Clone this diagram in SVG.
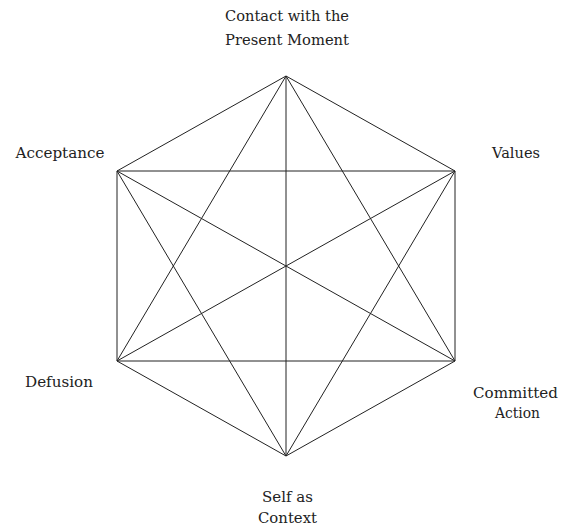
<svg xmlns="http://www.w3.org/2000/svg" width="561" height="529" viewBox="0 0 561 529">
<style>
text{font-family:'DejaVu Serif','Liberation Serif',serif;font-size:14px;fill:#222;text-anchor:middle}
.e line{stroke:#222;stroke-width:1}
</style>
<rect width="561" height="529" fill="#fff"/>
<g id="connectors" class="e">
<line x1="286" y1="76" x2="455" y2="171"/>
<line x1="455" y1="171" x2="455" y2="361"/>
<line x1="455" y1="361" x2="286" y2="456"/>
<line x1="286" y1="456" x2="117" y2="361"/>
<line x1="117" y1="361" x2="117" y2="171"/>
<line x1="117" y1="171" x2="286" y2="76"/>
<line x1="286" y1="76" x2="286" y2="456"/>
<line x1="117" y1="171" x2="455" y2="361"/>
<line x1="455" y1="171" x2="117" y2="361"/>
<line x1="117" y1="171" x2="455" y2="171"/>
<line x1="117" y1="361" x2="455" y2="361"/>
<line x1="286" y1="76" x2="455" y2="361"/>
<line x1="286" y1="76" x2="117" y2="361"/>
<line x1="455" y1="171" x2="286" y2="456"/>
<line x1="117" y1="171" x2="286" y2="456"/>
</g>
<g id="contact"><text x="287" y="21" textLength="124" lengthAdjust="spacingAndGlyphs">Contact with the</text><text x="287" y="45" textLength="124" lengthAdjust="spacingAndGlyphs">Present Moment</text></g>
<g id="acceptance"><text x="60" y="158" textLength="89" lengthAdjust="spacingAndGlyphs">Acceptance</text></g>
<g id="values"><text x="516" y="158" textLength="48" lengthAdjust="spacingAndGlyphs">Values</text></g>
<g id="defusion"><text x="59" y="387" textLength="68" lengthAdjust="spacingAndGlyphs">Defusion</text></g>
<g id="committed"><text x="515.5" y="398" textLength="85" lengthAdjust="spacingAndGlyphs">Committed</text><text x="517.5" y="418" textLength="45" lengthAdjust="spacingAndGlyphs">Action</text></g>
<g id="self"><text x="287.5" y="502" textLength="51" lengthAdjust="spacingAndGlyphs">Self as</text><text x="287.5" y="523" textLength="59" lengthAdjust="spacingAndGlyphs">Context</text></g>
</svg>
